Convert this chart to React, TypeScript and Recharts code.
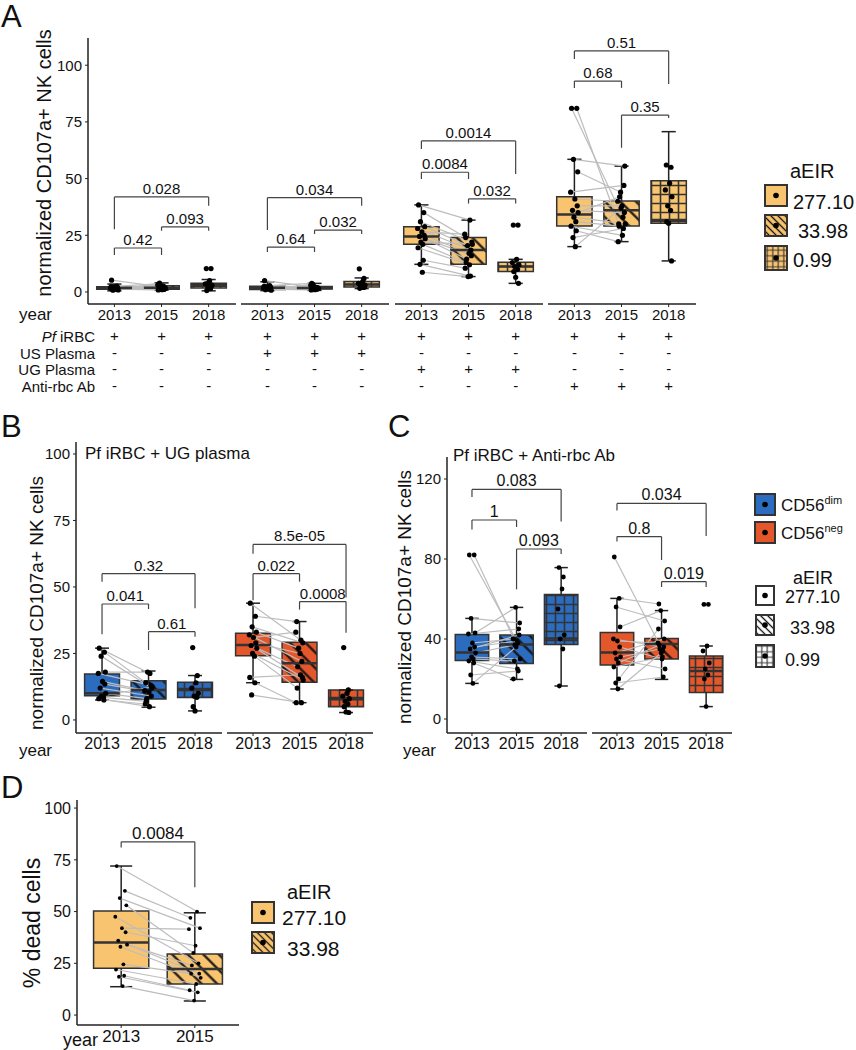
import React from 'react'
import { ComposedChart, XAxis, YAxis, Scatter, ReferenceArea, ReferenceLine } from 'recharts'

const ORANGE = '#F9C46F'
const BLUE = '#2B6CBF'
const RED = '#E4572A'
const INK = '#111'

const years3 = ['2013', '2015', '2018']
const years2 = ['2013', '2015']

// horizontal jitter for the dots of each year
const jit13 = [-0.06, 0.05, -0.02, 0.07, -0.08, 0.01, 0.06, -0.04, 0.08, -0.01, 0.03, -0.07, 0.04, -0.03, 0.02]
const jit15 = [0.03, -0.06, 0.07, -0.02, 0.05, -0.08, 0.01, 0.06, -0.04, 0.08, -0.05, 0.02, -0.07, 0.04, -0.01]
const jit18 = [-0.05, 0.05, 0.02, -0.07, 0.07, -0.02, 0.04, -0.04, 0.0, 0.06]

// box stats per year: [lower whisker, q1, median, q3, upper whisker]
// panel A, Pf iRBC only
const statsA1 = [[0.5, 1.2, 1.8, 2.3, 3.5], [0.8, 1.2, 1.9, 2.8, 4], [0.5, 1.8, 2.8, 3.8, 5.5]]
const a1y13 = [5.2, 2.6, 2.2, 1.9, 1.7, 1.5, 1.3, 1.1, 0.9, 2.0, 1.6, 2.4, 1.2, 0.8]
const a1y15 = [2.2, 3.6, 1.4, 2.8, 1.1, 3.1, 1.0, 2.0, 3.9, 1.8, 2.5, 1.3, 0.9, 2.6]
const a1y18 = [10.3, 10.3, 5.0, 3.6, 3.0, 2.2, 1.5, 0.6, 4.2, 2.7]
// panel A, + US plasma
const statsA2 = [[0.6, 1.1, 1.9, 2.5, 4.5], [0.7, 1.3, 1.8, 2.4, 3.8], [1.5, 2.2, 3.3, 4.6, 6.2]]
const a2y13 = [5.0, 2.8, 2.3, 2.0, 1.8, 1.5, 1.2, 1.0, 0.8, 2.1, 1.6, 2.5, 1.3]
const a2y15 = [2.0, 3.8, 1.5, 2.6, 1.2, 3.0, 1.0, 1.9, 3.5, 1.7, 2.3, 1.4, 0.9]
const a2y18 = [10.2, 6.0, 4.5, 3.8, 3.0, 2.5, 2.0, 1.6, 3.3, 2.2]
// panel A, + UG plasma
const statsA3 = [[12.2, 21, 24.5, 28.8, 38.4], [6.8, 12.2, 18.5, 24, 31.7], [3.8, 9, 11.2, 13.1, 14.4]]
const a3y13 = [38.4, 35, 31, 28.8, 28, 26.5, 25, 24.5, 23.5, 22, 21, 19.5, 14, 12.2, 8.7]
const a3y15 = [31.7, 24, 22, 20.5, 18.5, 25.5, 17, 16, 14.5, 21, 13, 12, 10.5, 7, 6.8]
const a3y18 = [29.5, 29.5, 14.4, 13, 12, 11.2, 10, 9, 6.5, 3.8]
// panel A, + anti-rbc Ab
const statsA4 = [[20, 29.1, 34.2, 42, 58.5], [22.2, 29.1, 36, 40.1, 55.5], [13.7, 30.3, 31.7, 49, 70.7]]
const a4y13 = [81, 81, 58.5, 53, 44, 41, 38, 36, 35, 33, 31, 29, 27, 24, 20]
const a4y15 = [33, 30, 55.5, 44, 47, 40, 38, 35, 42, 30, 29, 25, 22.2, 28, 37]
const a4y18 = [56, 55, 48, 45, 42, 38, 36, 31, 30.3, 13.7]

// panel B, CD56dim / CD56neg
const statsB1 = [[7.5, 9.1, 10, 17.3, 27], [4.8, 7.9, 11.3, 14.7, 18.4], [3.4, 8.4, 11.3, 14.2, 16.7]]
const b1y13 = [27, 25.5, 24, 18, 17.5, 14.5, 13.5, 12, 10, 9, 8.5, 8, 7.5]
const b1y15 = [17.5, 14, 12, 18, 13, 11, 10.5, 9, 8, 12.5, 7, 5, 6]
const b1y18 = [27.2, 16.7, 14, 12, 10, 9, 8.5, 5, 3.4]
const statsB2 = [[14, 24.1, 28.2, 32.6, 43.9], [6.5, 14.2, 21.3, 29.2, 37], [2.8, 5, 7.8, 11.3, 11.3]]
const b2y13 = [43.9, 39, 35, 33, 32, 31, 29, 28, 27, 25, 24, 16, 14, 9.4]
const b2y15 = [30, 37, 29, 27, 22, 33, 25, 16, 20, 15, 12, 17, 6.5, 6.5]
const b2y18 = [27.2, 11.3, 10, 9, 8, 7, 6, 5, 3, 2.8]

// panel C
const statsC1 = [[17.8, 29.2, 33.3, 42.2, 50.3], [19.8, 27.8, 37.3, 42, 55.8], [16.5, 37.3, 40.3, 62.3, 75.7]]
const c1y13 = [82, 82, 50.3, 43, 42.5, 38, 36, 35, 33, 31, 30, 29, 28, 22, 17.8]
const c1y15 = [38, 40, 48, 55.8, 45, 40, 39, 42, 37, 30, 29, 25, 20, 24, 36]
const c1y18 = [75.7, 71, 65, 55, 42, 40, 35, 16.5]
const statsC2 = [[15, 27, 33.3, 43.2, 60.3], [19.8, 30, 37.5, 40.2, 54.2], [6.2, 13.2, 24, 31.5, 36.5]]
const c2y13 = [81, 60.3, 56, 46, 40, 39, 36, 33, 31, 30, 28, 26, 20, 18, 15]
const c2y15 = [34, 57.5, 49, 54.2, 36, 38, 30, 40, 35, 25, 37, 31, 45, 21, 33]
const c2y18 = [57.3, 57.3, 36.5, 34, 28, 25, 22, 20, 6.2]

// panel D
const statsD = [[13.7, 22.6, 35.1, 50.3, 72], [6.8, 15, 22.2, 29.5, 49.4]]
const dy13 = [72, 60, 56.5, 53, 47.5, 42, 40, 36, 34, 33, 24.5, 22, 19, 18.5, 14]
const dy15 = [50, 47, 42, 30, 25, 41.5, 33.5, 20, 24, 18, 20, 15, 12, 11, 7]

// brackets: [from, to, height, left tip, right tip, p value]
type Bracket = [number, number, number, number, number, string]
const brA1: Bracket[] = [[1, 3, 41.9, 27.7, 38, '0.028'], [2, 3, 28.7, 27, 27, '0.093'], [1, 2, 19.4, 16.3, 16.3, '0.42']]
const brA2: Bracket[] = [[1, 3, 41.6, 27.3, 38, '0.034'], [2, 3, 27.3, 25.6, 25.6, '0.032'], [1, 2, 19.8, 17.6, 17.6, '0.64']]
const brA3: Bracket[] = [[1, 3, 66.6, 63, 52, '0.0014'], [1, 2, 52.8, 49.8, 49.8, '0.0084'], [2, 3, 41.1, 39, 39, '0.032']]
const brA4: Bracket[] = [[1, 3, 106.3, 102.7, 91.7, '0.51'], [1, 2, 93, 89.9, 90, '0.68'], [2, 3, 78, 63.6, 76.7, '0.35']]
const brB1: Bracket[] = [[1, 3, 55, 52, 42, '0.32'], [1, 2, 43.6, 32.2, 41.7, '0.041'], [2, 3, 33.2, 26.3, 31.3, '0.61']]
const brB2: Bracket[] = [[1, 3, 66, 62.5, 46, '8.5e-05'], [1, 2, 55, 45, 52, '0.022'], [2, 3, 44.5, 41.5, 32.8, '0.0008']]
const brC1: Bracket[] = [[1, 3, 114.8, 111, 98.7, '0.083'], [1, 2, 99.5, 94.8, 96, '1'], [2, 3, 85, 64.8, 82.5, '0.093']]
const brC2: Bracket[] = [[1, 3, 107.8, 104.2, 91.5, '0.034'], [1, 2, 91.2, 88.7, 79.5, '0.8'], [2, 3, 68.7, 66, 66, '0.019']]
const brD: Bracket[] = [[1, 2, 83.7, 81, 61.7, '0.0084']]

const signsA = [['+', '-', '-', '-'], ['+', '+', '-', '-'], ['+', '-', '+', '-'], ['+', '-', '-', '+']]
const rowNames = ['iRBC', 'US Plasma', 'UG Plasma', 'Anti-rbc Ab']
const rowWidths = [60, 72, 74, 71]

const patterns = ['plain', 'hatch', 'grid']

function Patterns() {
  const cols: Record<string, string> = { o: ORANGE, b: BLUE, r: RED, w: '#fff' }
  return (
    <svg width={0} height={0} style={{ position: 'absolute' }}>
      <defs>
        {Object.entries(cols).map(([k, c]) => (
          <React.Fragment key={k}>
            <pattern id={`plain-${k}`} width={10} height={10} patternUnits='userSpaceOnUse'>
              <rect width={10} height={10} fill={c} />
            </pattern>
            <pattern id={`hatch-${k}`} width={11} height={11} patternUnits='userSpaceOnUse' patternTransform='rotate(-45)'>
              <rect width={11} height={11} fill={c} />
              <line x1={5.5} y1={0} x2={5.5} y2={11} stroke={INK} strokeWidth={2.2} />
            </pattern>
            <pattern id={`grid-${k}`} width={9} height={9} patternUnits='userSpaceOnUse'>
              <rect width={9} height={9} fill={c} />
              <path d='M0 4.5H9M4.5 0V9' stroke='#333' strokeWidth={1.6} />
            </pattern>
            <pattern id={`lhatch-${k}`} width={5} height={5} patternUnits='userSpaceOnUse' patternTransform='rotate(-45)'>
              <rect width={5} height={5} fill={c} />
              <line x1={2.5} y1={0} x2={2.5} y2={5} stroke={INK} strokeWidth={1.3} />
            </pattern>
            <pattern id={`lgrid-${k}`} width={5.5} height={5.5} patternUnits='userSpaceOnUse'>
              <rect width={5.5} height={5.5} fill={c} />
              <path d='M0 2.75H5.5M2.75 0V5.5' stroke='#333' strokeWidth={1.1} />
            </pattern>
          </React.Fragment>
        ))}
      </defs>
    </svg>
  )
}

type GroupProps = {
  left: number
  top: number
  plotW: number
  plotH: number
  yW: number
  yDomain: [number, number]
  yTicks: number[]
  xDomain: [number, number]
  years: string[]
  stats: number[][]
  col: string
  series: number[][]
  brackets: Bracket[]
  r: number
  fs: number
  xfs: number
  bfs: number
}

const jits = [jit13, jit15, jit18]

function Group(p: GroupProps) {
  const pts: { x: number; y: number }[] = []
  p.series.forEach((ys, i) => ys.forEach((y, j) => pts.push({ x: i + 1 + jits[i][j % jits[i].length], y })))
  const pairs = p.series[0].slice(0, p.series[1].length).map((y, j) => [
    { x: 1 + jit13[j], y },
    { x: 2 + jit15[j], y: p.series[1][j] },
  ])
  const hw = 0.375
  const cw = 0.15
  return (
    <div style={{ position: 'absolute', left: p.left, top: p.top - 10 }}>
      <ComposedChart
        width={p.yW + p.plotW + 4}
        height={p.plotH + 44}
        margin={{ top: 10, right: 4, bottom: 0, left: 0 }}
        style={{ overflow: 'visible' }}
      >
        <XAxis
          type='number'
          dataKey='x'
          domain={p.xDomain}
          ticks={p.years.map((_, i) => i + 1)}
          tickFormatter={(v) => p.years[v - 1]}
          interval={0}
          allowDataOverflow
          height={34}
          tickSize={3}
          tickMargin={2}
          axisLine={{ stroke: '#222', strokeWidth: 1.5 }}
          tickLine={{ stroke: '#222' }}
          tick={{ fill: INK, fontSize: p.xfs }}
        />
        <YAxis
          type='number'
          dataKey='y'
          domain={p.yDomain}
          ticks={p.yTicks}
          allowDataOverflow
          hide={p.yW === 0}
          width={p.yW}
          tickSize={3}
          tickMargin={3}
          axisLine={{ stroke: '#222', strokeWidth: 1.5 }}
          tickLine={{ stroke: '#222' }}
          tick={{ fill: INK, fontSize: p.fs }}
        />
        {p.stats.map((s, i) => (
          <ReferenceArea
            key={'box' + i}
            x1={i + 1 - hw}
            x2={i + 1 + hw}
            y1={s[1]}
            y2={s[3]}
            fill={`url(#${patterns[i]}-${p.col})`}
            fillOpacity={1}
            stroke='#333'
            strokeWidth={1.5}
            ifOverflow='visible'
          />
        ))}
        {p.stats.map((s, i) => (
          <ReferenceLine key={'wu' + i} segment={[{ x: i + 1, y: s[3] }, { x: i + 1, y: s[4] }]} stroke='#222' strokeWidth={1.5} ifOverflow='visible' />
        ))}
        {p.stats.map((s, i) => (
          <ReferenceLine key={'wl' + i} segment={[{ x: i + 1, y: s[0] }, { x: i + 1, y: s[1] }]} stroke='#222' strokeWidth={1.5} ifOverflow='visible' />
        ))}
        {p.stats.map((s, i) => (
          <ReferenceLine key={'cu' + i} segment={[{ x: i + 1 - cw, y: s[4] }, { x: i + 1 + cw, y: s[4] }]} stroke='#222' strokeWidth={1.5} ifOverflow='visible' />
        ))}
        {p.stats.map((s, i) => (
          <ReferenceLine key={'cl' + i} segment={[{ x: i + 1 - cw, y: s[0] }, { x: i + 1 + cw, y: s[0] }]} stroke='#222' strokeWidth={1.5} ifOverflow='visible' />
        ))}
        {pairs.map((seg, j) => (
          <ReferenceLine key={'pair' + j} segment={seg} stroke='#BDBDBD' strokeWidth={1.2} ifOverflow='visible' />
        ))}
        {p.stats.map((s, i) => (
          <ReferenceLine key={'med' + i} segment={[{ x: i + 1 - hw, y: s[2] }, { x: i + 1 + hw, y: s[2] }]} stroke='#333' strokeWidth={2.5} ifOverflow='visible' />
        ))}
        {p.brackets.map((b, k) => (
          <ReferenceLine key={'bl' + k} segment={[{ x: b[0], y: b[3] }, { x: b[0], y: b[2] }]} stroke='#444' strokeWidth={1.2} ifOverflow='visible' />
        ))}
        {p.brackets.map((b, k) => (
          <ReferenceLine key={'br' + k} segment={[{ x: b[1], y: b[4] }, { x: b[1], y: b[2] }]} stroke='#444' strokeWidth={1.2} ifOverflow='visible' />
        ))}
        {p.brackets.map((b, k) => (
          <ReferenceLine
            key={'bh' + k}
            segment={[{ x: b[0], y: b[2] }, { x: b[1], y: b[2] }]}
            stroke='#444'
            strokeWidth={1.2}
            ifOverflow='visible'
            label={{ value: b[5], position: 'top', offset: 3, fill: INK, fontSize: p.bfs }}
          />
        ))}
        <Scatter
          data={pts}
          dataKey='y'
          isAnimationActive={false}
          shape={(s: any) => <circle cx={s.cx} cy={s.cy} r={p.r} fill='#000' />}
        />
      </ComposedChart>
    </div>
  )
}

const XD3: [number, number] = [0.44, 3.58]

function tickX(left: number, plotW: number, k: number) {
  return left + ((k - XD3[0]) * plotW) / (XD3[1] - XD3[0])
}

function LegendKey({ x, y, w, h, fill }: { x: number; y: number; w: number; h: number; fill: string }) {
  return (
    <g>
      <rect x={x} y={y} width={w} height={h} fill={fill} stroke='#333' strokeWidth={2} />
      <circle cx={x + w / 2} cy={y + h / 2} r={2.8} fill='#000' />
    </g>
  )
}

export default function App() {
  const A = { top: 38, plotH: 266, yDomain: [-5.3, 112] as [number, number], yTicks: [0, 25, 50, 75, 100], xDomain: XD3, years: years3, fs: 15, xfs: 15, bfs: 15, r: 2.6, col: 'o' }
  const B = { top: 442, plotH: 291, yDomain: [-4.9, 104.5] as [number, number], yTicks: [0, 25, 50, 75, 100], xDomain: XD3, years: years3, fs: 15, xfs: 16, bfs: 15, r: 2.6 }
  const C = { top: 457, plotH: 276, yDomain: [-7, 131] as [number, number], yTicks: [0, 40, 80, 120], xDomain: XD3, years: years3, fs: 15, xfs: 16, bfs: 16, r: 2.4 }
  const aLefts = [88, 241, 395, 548]
  return (
    <div style={{ position: 'absolute', left: 0, top: 0, width: 856, height: 1050, fontFamily: '"Liberation Sans", Arial, sans-serif', background: '#fff' }}>
      <Patterns />
      <Group {...A} left={0} yW={88} plotW={148} stats={statsA1} series={[a1y13, a1y15, a1y18]} brackets={brA1} />
      <Group {...A} left={241} yW={0} plotW={148} stats={statsA2} series={[a2y13, a2y15, a2y18]} brackets={brA2} />
      <Group {...A} left={395} yW={0} plotW={148} stats={statsA3} series={[a3y13, a3y15, a3y18]} brackets={brA3} />
      <Group {...A} left={548} yW={0} plotW={148} stats={statsA4} series={[a4y13, a4y15, a4y18]} brackets={brA4} />

      <Group {...B} left={0} yW={76} plotW={146} col='b' stats={statsB1} series={[b1y13, b1y15, b1y18]} brackets={brB1} />
      <Group {...B} left={227} yW={0} plotW={146} col='r' stats={statsB2} series={[b2y13, b2y15, b2y18]} brackets={brB2} />

      <Group {...C} left={380} yW={67} plotW={140} col='b' stats={statsC1} series={[c1y13, c1y15, c1y18]} brackets={brC1} />
      <Group {...C} left={592} yW={0} plotW={140} col='r' stats={statsC2} series={[c2y13, c2y15, c2y18]} brackets={brC2} />

      <Group
        top={800}
        plotH={225}
        yDomain={[-4.8, 103.9]}
        yTicks={[0, 25, 50, 75, 100]}
        xDomain={[0.4, 2.6]}
        years={years2}
        fs={16}
        xfs={17}
        bfs={17}
        r={1.9}
        col='o'
        left={0}
        yW={77}
        plotW={162}
        stats={statsD}
        series={[dy13, dy15]}
        brackets={brD}
      />

      <svg width={856} height={1050} style={{ position: 'absolute', left: 0, top: 0, pointerEvents: 'none' }}>
        <g fill={INK}>
          <text x={1} y={27} fontSize={31}>A</text>
          <text x={1} y={437} fontSize={31}>B</text>
          <text x={388} y={437} fontSize={31}>C</text>
          <text x={1} y={798} fontSize={31}>D</text>

          <text transform='translate(44,163) rotate(-90)' textAnchor='middle' dominantBaseline='central' fontSize={20}>normalized CD107a+ NK cells</text>
          <text transform='translate(36,603) rotate(-90)' textAnchor='middle' dominantBaseline='central' fontSize={19}>normalized CD107a+ NK cells</text>
          <text transform='translate(404,597) rotate(-90)' textAnchor='middle' dominantBaseline='central' fontSize={19}>normalized CD107a+ NK cells</text>
          <text transform='translate(32,923) rotate(-90)' textAnchor='middle' dominantBaseline='central' fontSize={23}>% dead cells</text>

          <text x={52} y={320} textAnchor='end' fontSize={17}>year</text>
          <text x={52} y={756} textAnchor='end' fontSize={17}>year</text>
          <text x={436} y={756} textAnchor='end' fontSize={17}>year</text>
          <text x={98} y={1046} textAnchor='end' fontSize={18}>year</text>

          {rowNames.map((n, i) => (
            <text key={n} x={95} y={342 + i * 16.5} textAnchor='end' fontSize={15}>
              {i === 0 ? <tspan fontStyle='italic'>Pf </tspan> : null}
              {n}
            </text>
          ))}
          {signsA.map((col, g) =>
            col.map((s, i) =>
              [1, 2, 3].map((k) => (
                <text key={`${g}-${i}-${k}`} x={tickX(aLefts[g], 148, k)} y={341 + i * 16.5} textAnchor='middle' fontSize={15}>
                  {s}
                </text>
              )),
            ),
          )}

          <text x={85} y={459} fontSize={17}>Pf iRBC + UG plasma</text>
          <text x={453} y={461} fontSize={17}>Pf iRBC + Anti-rbc Ab</text>

          <text x={790} y={178} fontSize={20}>aEIR</text>
          <LegendKey x={765} y={185} w={22} h={21} fill={`url(#plain-o)`} />
          <LegendKey x={765} y={215} w={22} h={21} fill={`url(#lhatch-o)`} />
          <LegendKey x={765} y={246} w={22} h={24} fill={`url(#lgrid-o)`} />
          <text x={793} y={209} fontSize={20}>277.10</text>
          <text x={798} y={238} fontSize={20}>33.98</text>
          <text x={793} y={267} fontSize={20}>0.99</text>

          <LegendKey x={755} y={494} w={20} h={21} fill={BLUE} />
          <LegendKey x={755} y={522} w={20} h={21} fill={RED} />
          <text x={781} y={511} fontSize={17}>CD56<tspan dy={-7} fontSize={11}>dim</tspan></text>
          <text x={781} y={539} fontSize={17}>CD56<tspan dy={-7} fontSize={11}>neg</tspan></text>
          <text x={793} y={584} fontSize={18}>aEIR</text>
          <LegendKey x={756} y={586} w={18} h={19} fill='#fff' />
          <LegendKey x={756} y={615} w={18} h={20} fill='url(#lhatch-w)' />
          <LegendKey x={756} y={645} w={18} h={22} fill='url(#lgrid-w)' />
          <text x={785} y={603} fontSize={18}>277.10</text>
          <text x={790} y={634} fontSize={18}>33.98</text>
          <text x={785} y={666} fontSize={18}>0.99</text>

          <text x={287} y={899} fontSize={20}>aEIR</text>
          <LegendKey x={252} y={902} w={22} h={21} fill='url(#plain-o)' />
          <LegendKey x={252} y={932} w={22} h={21} fill='url(#lhatch-o)' />
          <text x={282} y={925} fontSize={21}>277.10</text>
          <text x={287} y={956} fontSize={21}>33.98</text>
        </g>
      </svg>
    </div>
  )
}
